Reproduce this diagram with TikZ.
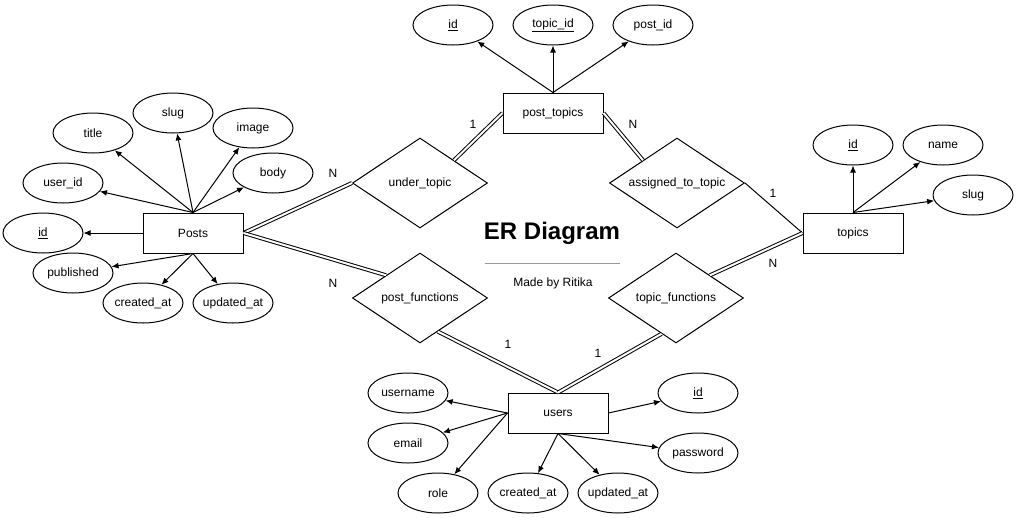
\documentclass[tikz,border=0pt]{standalone}
\usepackage{fontspec}
\setmainfont{Liberation Sans}
\usetikzlibrary{shapes, arrows.meta}

\begin{document}
\begin{tikzpicture}[x=1pt, y=-1pt, >={Latex[length=7pt, width=6pt]}, line width=1pt,
    every node/.style={font=\fontsize{12}{14}\selectfont},
    entity/.style={draw, rectangle, minimum width=100pt, minimum height=40pt},
    attr/.style={draw, ellipse, minimum width=80pt, minimum height=40pt, inner xsep=-4pt, inner ysep=0pt},
    rel/.style={draw, diamond, aspect=1.5, minimum width=135pt, minimum height=90pt, inner sep=0pt},
    link/.style={double, double distance=2pt}]

\useasboundingbox (0,0) rectangle (1017,517);

%% entities
\node[entity] (posts) at (193,233) {Posts};
\node[entity] (posttopics) at (553,113) {post\_topics};
\node[entity] (topics) at (853,233) {topics};
\node[entity] (users) at (558,413) {users};

%% relations
\node[rel] (undertopic) at (420,183) {under\_topic};
\node[rel] (assigned) at (677,183) {assigned\_to\_topic};
\node[rel] (postfunc) at (420,298) {post\_functions};
\node[rel] (topicfunc) at (676,298) {topic\_functions};

% posts attributes
\node[attr] (ptitle) at (93,133) {title};
\node[attr] (pslug) at (173,113) {slug};
\node[attr] (pimage) at (253,128) {image};
\node[attr] (pbody) at (273,173) {body};
\node[attr] (puserid) at (63,183) {user\_id};
\node[attr] (pid) at (43,233) {\underline{id}};
\node[attr] (ppublished) at (73,273) {published};
\node[attr] (pcreated) at (143,303) {created\_at};
\node[attr] (pupdated) at (233,303) {updated\_at};
% post_topics attributes
\node[attr] (ptid) at (453,25) {\underline{id}};
\node[attr] (pttopicid) at (553,25) {\underline{topic\_id}};
\node[attr] (ptpostid) at (653,25) {post\_id};
% topics attributes
\node[attr] (tid) at (853,145) {\underline{id}};
\node[attr] (tname) at (943,145) {name};
\node[attr] (tslug) at (973,195) {slug};
% users attributes
\node[attr] (uusername) at (408,393) {username};
\node[attr] (uemail) at (408,443) {email};
\node[attr] (urole) at (438,493) {role};
\node[attr] (ucreated) at (528,493) {created\_at};
\node[attr] (uupdated) at (618,493) {updated\_at};
\node[attr] (uid) at (698,393) {\underline{id}};
\node[attr] (upassword) at (698,453) {password};

%% attribute arrows
\draw[->] (posts.north) -- (ptitle);
\draw[->] (posts.north) -- (pslug);
\draw[->] (posts.north) -- (pimage);
\draw[->] (posts.north) -- (pbody);
\draw[->] (posts.north) -- (puserid);
\draw[->] (posts.west) -- (pid);
\draw[->] (posts.south) -- (ppublished);
\draw[->] (posts.south) -- (pcreated);
\draw[->] (posts.south) -- (pupdated);

\draw[->] (posttopics.north) -- (ptid);
\draw[->] (posttopics.north) -- (pttopicid);
\draw[->] (posttopics.north) -- (ptpostid);

\draw[->] (topics.north) -- (tid);
\draw[->] (topics.north) -- (tname);
\draw[->] (topics.north) -- (tslug);

\draw[->] (users.west) -- (uusername);
\draw[->] (users.west) -- (uemail);
\draw[->] (users.west) -- (urole);
\draw[->] (users.south) -- (ucreated);
\draw[->] (users.south) -- (uupdated);
\draw[->] (users.east) -- (uid);
\draw[->] (users.south) -- (upassword);

%% relation links
\draw[link] (posts.east) -- (undertopic.west);
\draw[link] (undertopic.north east) -- (posttopics.west);
\draw[link] (posttopics.east) -- (assigned.north west);
\draw (assigned.east) -- (topics.west);
\draw[link] (posts.east) -- (postfunc.north west);
\draw[link] (postfunc.-62) -- (users.north);
\draw[link] (topicfunc.-112) -- (users.north);
\draw[link] (topicfunc.north east) -- (topics.west);

% cardinalities
\node (card1) at (333,173) {N};
\node (card2) at (473,124) {1};
\node (card3) at (633,124) {N};
\node (card4) at (773,193) {1};
\node (card5) at (773,263) {N};
\node (card6) at (333,283) {N};
\node (card7) at (508,344) {1};
\node (card8) at (598,353) {1};

%% title
\node[font=\fontsize{24}{28}\selectfont\bfseries] (title) at (552,233) {ER Diagram};
\draw[gray!80] (485,263) -- (620,263);
\node (madeby) at (553,283) {Made by Ritika};

\end{tikzpicture}
\end{document}
